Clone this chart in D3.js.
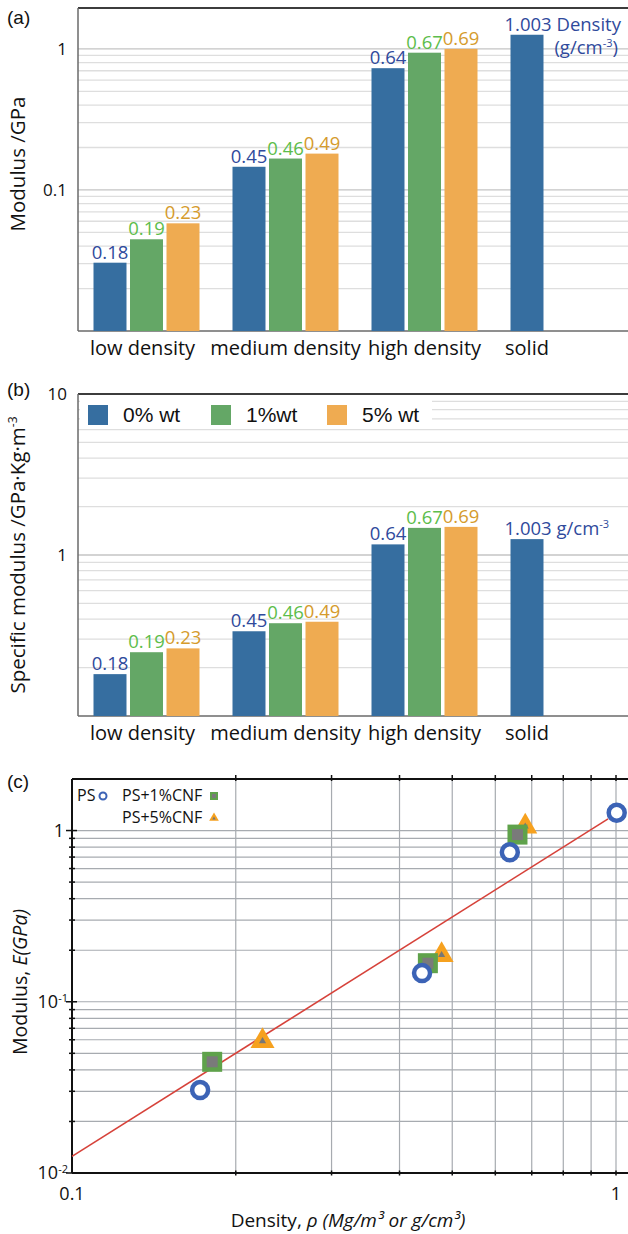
<!DOCTYPE html>
<html>
<head>
<meta charset="utf-8">
<script src="https://cdnjs.cloudflare.com/ajax/libs/d3/7.8.5/d3.min.js"></script>
<style>
body { margin: 0; background: #fff; }
text { font-family: "Open Sans", sans-serif; fill: #111; }
.panel { font-family: "Liberation Sans", Arial, sans-serif; font-size: 19px; }
</style>
</head>
<body>
<svg class="figure" width="628" height="1234"></svg>
<script>
// bar panels (a) and (b)
var categories = ['low density', 'medium density', 'high density', 'solid'];
var series = ['0% wt', '1%wt', '5% wt'];
var densityText = [['0.18', '0.19', '0.23'], ['0.45', '0.46', '0.49'], ['0.64', '0.67', '0.69'], ['1.003']];
var modulus0 = [0.0305, 0.146, 0.73, 1.26];
var modulus1 = [0.0447, 0.167, 0.94];
var modulus5 = [0.058, 0.181, 1.0];
var specific0 = [0.182, 0.336, 1.164, 1.255];
var specific1 = [0.249, 0.377, 1.474];
var specific5 = [0.263, 0.385, 1.495];
var ticksA = [1, 0.1];
var ticksB = [10, 1];

// scatter panel (c)
var psDensity = [0.172, 0.44, 0.638, 1.003];
var psModulus = [0.0305, 0.147, 0.746, 1.27];
var cnf1Density = [0.181, 0.451, 0.659];
var cnf1Modulus = [0.0446, 0.168, 0.947];
var cnf5Density = [0.224, 0.478, 0.681];
var cnf5Modulus = [0.0589, 0.1875, 1.055];
var fitDensity = [0.1, 0.967];
var fitModulus = [0.0125, 1.17];
var ticksCY = [1, 0.1, 0.01];
var ticksCYExp = ['', '-1', '-2'];
var ticksCX = [0.1, 1];

var barColors = ['#366ea0', '#64a766', '#efab51'];
var labelColors = ['#2f4a9c', '#5dbd4b', '#d59b2d'];

var svg = d3.select('.figure');
var svgWidth = +svg.attr('width');
var plotLeft = 78;

var x0 = d3.scaleBand().domain(categories).range([77, 633]);
var x1 = d3.scaleBand().domain(series).range([0, x0.bandwidth()])
    .paddingInner(0.096).paddingOuter(0.452);

function barRows(v0, v1, v5) {
  var out = [];
  categories.forEach(function(c, i) {
    [v0, v1, v5].forEach(function(v, j) {
      if (v[i] != null) out.push({cat: c, i: i, j: j, value: v[i], label: densityText[i][j]});
    });
  });
  return out;
}

function barPanel(name, y, rows, ticks, solidLabel) {
  var g = svg.append('g').attr('class', name);
  var top = y.range()[1], bottom = y.range()[0];

  // log grid
  g.selectAll('.grid').data(y.ticks().filter(function(t) { return t > y.domain()[0] * 1.01; }))
    .enter().append('line')
    .attr('x1', plotLeft).attr('x2', svgWidth)
    .attr('y1', function(d) { return y(d); }).attr('y2', function(d) { return y(d); })
    .attr('stroke', function(d) { return ticks.indexOf(d) >= 0 ? '#c4c4c4' : '#dedede'; })
    .attr('stroke-width', 1.3);

  g.append('line').attr('x1', plotLeft).attr('x2', svgWidth).attr('y1', top).attr('y2', top)
    .attr('stroke', '#3c3c3c').attr('stroke-width', 2);
  g.append('line').attr('x1', plotLeft).attr('x2', plotLeft).attr('y1', top).attr('y2', bottom)
    .attr('stroke', '#6a6a6a').attr('stroke-width', 1.5);
  g.append('line').attr('x1', plotLeft).attr('x2', svgWidth).attr('y1', bottom).attr('y2', bottom)
    .attr('stroke', '#6a6a6a').attr('stroke-width', 1.5);

  g.selectAll('.tickLabel').data(ticks).enter().append('text')
    .attr('x', 67).attr('y', function(d) { return y(d); }).attr('dy', '0.35em')
    .attr('text-anchor', 'end').style('font-size', '17px')
    .text(function(d) { return d; });

  g.selectAll('.bar').data(rows).enter().append('rect')
    .attr('x', function(d) { return x0(d.cat) + x1(series[d.j]); })
    .attr('width', x1.bandwidth())
    .attr('y', function(d) { return y(d.value); })
    .attr('height', function(d) { return bottom - y(d.value); })
    .attr('fill', function(d) { return barColors[d.j]; });

  g.selectAll('.value').data(rows.filter(function(d) { return d.i < 3; })).enter().append('text')
    .attr('x', function(d) { return x0(d.cat) + x1(series[d.j]) + x1.bandwidth() / 2; })
    .attr('y', function(d) { return y(d.value) - 4; })
    .attr('text-anchor', 'middle').style('font-size', '18.5px')
    .style('fill', function(d) { return labelColors[d.j]; })
    .text(function(d) { return d.label; });

  var solid = rows.filter(function(d) { return d.i == 3; })[0];
  var st = g.append('text')
    .attr('x', x0(solid.cat) + x1(series[0]) - 6)
    .attr('y', y(solid.value) - 4)
    .style('font-size', '18.5px').style('fill', labelColors[0]);
  st.append('tspan').text(solid.label + solidLabel[0]);
  if (solidLabel[1]) st.append('tspan').attr('baseline-shift', 'super').style('font-size', '11px').text(solidLabel[1]);

  // category labels centred on the bars that exist
  g.selectAll('.cat').data(categories).enter().append('text')
    .attr('x', function(d, i) {
      var n = rows.filter(function(r) { return r.i == i; }).length;
      return x0(d) + x1(series[0]) + ((n - 1) * x1.step() + x1.bandwidth()) / 2 - (i == 0 ? 4 : 0);
    })
    .attr('y', bottom + 24)
    .attr('text-anchor', 'middle').style('font-size', '20px')
    .text(function(d) { return d; });
  return g;
}

// (a)
var yA = d3.scaleLog().domain([0.01, 1.95]).range([331, 8]);
var gA = barPanel('panelA', yA, barRows(modulus0, modulus1, modulus5), ticksA, [' Density']);
var dens = gA.append('text').attr('x', 618).attr('y', 54).attr('text-anchor', 'end')
  .style('font-size', '18.5px').style('fill', labelColors[0]);
dens.append('tspan').text('(g/cm');
dens.append('tspan').attr('baseline-shift', 'super').style('font-size', '11px').text('-3');
dens.append('tspan').text(')');
svg.append('text').attr('class', 'panel').attr('x', 7).attr('y', 24).text('(a)');
svg.append('text').attr('transform', 'translate(25,164) rotate(-90)')
  .attr('text-anchor', 'middle').style('font-size', '20.5px').text('Modulus /GPa');

// (b)
var yB = d3.scaleLog().domain([0.1, 10]).range([716, 394]);
barPanel('panelB', yB, barRows(specific0, specific1, specific5), ticksB, [' g/cm', '-3']);
svg.append('text').attr('class', 'panel').attr('x', 7).attr('y', 396).text('(b)');
var yl = svg.append('text').attr('transform', 'translate(25,555) rotate(-90)')
  .attr('text-anchor', 'middle').style('font-size', '20.5px');
yl.append('tspan').text('Specific modulus /GPa\u00b7Kg\u00b7m');
yl.append('tspan').attr('baseline-shift', 'super').style('font-size', '12px').text('-3');

var legend = svg.append('g').attr('class', 'legendB');
legend.append('rect').attr('x', 80).attr('y', 395).attr('width', 352).attr('height', 33).attr('fill', '#fff');
var legendX = [88, 211, 327];
series.forEach(function(s, j) {
  legend.append('rect').attr('x', legendX[j]).attr('y', 405).attr('width', 20).attr('height', 20)
    .attr('fill', barColors[j]);
  legend.append('text').attr('x', legendX[j] + 35).attr('y', 422)
    .style('font-family', '"Liberation Sans", Arial, sans-serif').style('font-size', '21px')
    .text(s);
});

// (c)
var xC = d3.scaleLog().domain([0.1, 1]).range([72, 616]);
var yC = d3.scaleLog().domain([0.01, 2]).range([1173, 779]);
var gC = svg.append('g').attr('class', 'panelC');
var cTop = yC.range()[1], cBottom = yC.range()[0];
var xGrid = xC.ticks().filter(function(t) { return t > 0.101; });
var yGrid = yC.ticks().filter(function(t) { return t > 0.0101 && t < 1.01; });

gC.selectAll('.vgrid').data(xGrid).enter().append('line')
  .attr('x1', function(d) { return xC(d); }).attr('x2', function(d) { return xC(d); })
  .attr('y1', cTop).attr('y2', cBottom)
  .attr('stroke', '#a7abb0').attr('stroke-width', 1.2);
gC.selectAll('.hgrid').data(yGrid).enter().append('line')
  .attr('x1', 72).attr('x2', svgWidth)
  .attr('y1', function(d) { return yC(d); }).attr('y2', function(d) { return yC(d); })
  .attr('stroke', '#a7abb0').attr('stroke-width', 1.2);

gC.append('line').attr('x1', 72).attr('x2', svgWidth).attr('y1', cTop).attr('y2', cTop)
  .attr('stroke', '#111').attr('stroke-width', 2);
gC.append('line').attr('x1', 72).attr('x2', svgWidth).attr('y1', cBottom).attr('y2', cBottom)
  .attr('stroke', '#111').attr('stroke-width', 2);
gC.append('line').attr('x1', 72).attr('x2', 72).attr('y1', cTop).attr('y2', cBottom)
  .attr('stroke', '#111').attr('stroke-width', 2);

// crossing tick marks
gC.selectAll('.ytick').data(yC.ticks().filter(function(t) { return t < 1.01; })).enter().append('line')
  .attr('x1', function(d) { return ticksCY.indexOf(d) >= 0 ? 66 : 69; })
  .attr('x2', function(d) { return ticksCY.indexOf(d) >= 0 ? 77 : 75; })
  .attr('y1', function(d) { return yC(d); }).attr('y2', function(d) { return yC(d); })
  .attr('stroke', '#111').attr('stroke-width', 1.5);
[cTop, cBottom].forEach(function(yy) {
  gC.selectAll(null).data(xC.ticks().filter(function(t) { return t > 0.101; })).enter().append('line')
    .attr('x1', function(d) { return xC(d); }).attr('x2', function(d) { return xC(d); })
    .attr('y1', yy - (yy == cTop ? 4 : 2.5)).attr('y2', yy + (yy == cTop ? 2 : 2.5))
    .attr('stroke', '#111').attr('stroke-width', 1.5);
});

gC.selectAll('.ylab').data(ticksCY).enter().append('text')
  .attr('x', 64).attr('y', function(d) { return yC(d); }).attr('dy', '0.35em')
  .attr('text-anchor', 'end').style('font-size', '18px')
  .each(function(d, i) {
    var t = d3.select(this);
    if (!ticksCYExp[i]) { t.text('1'); return; }
    t.attr('x', 68);
    t.append('tspan').text('10');
    t.append('tspan').attr('dy', '-0.55em').style('font-size', '11px').text(ticksCYExp[i]);
  });
gC.selectAll('.xlab').data(ticksCX).enter().append('text')
  .attr('x', function(d) { return xC(d); }).attr('y', 1200)
  .attr('text-anchor', 'middle').style('font-size', '18px')
  .text(function(d) { return d; });

gC.append('path')
  .datum(fitDensity.map(function(d, i) { return [d, fitModulus[i]]; }))
  .attr('fill', 'none').attr('stroke', '#d6423a').attr('stroke-width', 1.6)
  .attr('d', d3.line().x(function(d) { return xC(d[0]); }).y(function(d) { return yC(d[1]); }));

var triBig = d3.symbol(d3.symbolTriangle, 250);
var triSmall = d3.symbol(d3.symbolTriangle, 22);
cnf5Density.forEach(function(d, i) {
  var tx = 'translate(' + xC(d) + ',' + yC(cnf5Modulus[i]) + ')';
  gC.append('path').attr('transform', tx).attr('d', triBig).attr('fill', '#f6a11f');
  gC.append('path').attr('transform', tx).attr('d', triSmall).attr('fill', '#777');
});
cnf1Density.forEach(function(d, i) {
  gC.append('rect').attr('x', xC(d) - 10).attr('y', yC(cnf1Modulus[i]) - 10)
    .attr('width', 20).attr('height', 20).attr('fill', '#5fa24b');
  gC.append('rect').attr('x', xC(d) - 5.5).attr('y', yC(cnf1Modulus[i]) - 5.5)
    .attr('width', 11).attr('height', 11).attr('fill', '#7a7a7a');
});
gC.selectAll('.ps').data(psDensity).enter().append('circle')
  .attr('cx', function(d) { return xC(d); })
  .attr('cy', function(d, i) { return yC(psModulus[i]); })
  .attr('r', 8).attr('fill', '#fff').attr('stroke', '#3c63b6').attr('stroke-width', 4.5);

// legend (c)
var lg = gC.append('g').style('font-size', '16px');
lg.append('text').attr('x', 77).attr('y', 801).text('PS');
lg.append('circle').attr('cx', 103).attr('cy', 796).attr('r', 3.5).attr('fill', '#fff')
  .attr('stroke', '#3c63b6').attr('stroke-width', 2);
lg.append('text').attr('x', 122).attr('y', 801).text('PS+1%CNF');
lg.append('rect').attr('x', 210).attr('y', 792).attr('width', 8).attr('height', 8).attr('fill', '#5fa24b');
lg.append('rect').attr('x', 212).attr('y', 794).attr('width', 4).attr('height', 4).attr('fill', '#7a7a7a');
lg.append('text').attr('x', 122).attr('y', 823).text('PS+5%CNF');
lg.append('path').attr('transform', 'translate(214,818)').attr('d', d3.symbol(d3.symbolTriangle, 40)).attr('fill', '#f6a11f');
lg.append('path').attr('transform', 'translate(214,818.5)').attr('d', d3.symbol(d3.symbolTriangle, 5)).attr('fill', '#777');

svg.append('text').attr('class', 'panel').attr('x', 7).attr('y', 788).text('(c)');
var ycl = svg.append('text').attr('transform', 'translate(27,982) rotate(-90)')
  .attr('text-anchor', 'middle').style('font-size', '19.5px');
ycl.append('tspan').text('Modulus, ');
ycl.append('tspan').style('font-style', 'italic').text('E(GPa)');
var xcl = svg.append('text').attr('x', 348).attr('y', 1227)
  .attr('text-anchor', 'middle').style('font-size', '19px');
xcl.append('tspan').text('Density, ');
xcl.append('tspan').style('font-style', 'italic').text('\u03c1 (Mg/m\u00b3 or g/cm\u00b3)');
</script>
</body>
</html>
